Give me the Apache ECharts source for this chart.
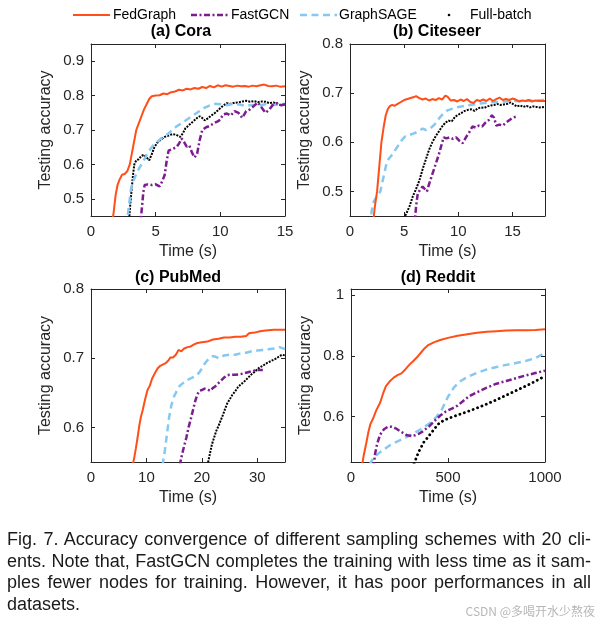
<!DOCTYPE html>
<html>
<head>
<meta charset="utf-8">
<script src="https://cdn.jsdelivr.net/npm/echarts@6/dist/echarts.min.js"></script>
<style>
html,body{margin:0;padding:0;background:#fff;}
#main{position:absolute;left:0;top:0;width:600px;height:624px;}
#cap{position:absolute;left:7px;top:529px;width:584px;font-family:"Liberation Sans",Arial,sans-serif;font-size:18px;line-height:21.5px;color:#1a1a1a;}
#cap div{white-space:nowrap;text-align:justify;text-align-last:justify;}
#cap div.last{text-align-last:left;}
</style>
</head>
<body>
<div id="main"></div>
<div id="cap">
<div>Fig. 7. Accuracy convergence of different sampling schemes with 20 cli-</div>
<div>ents. Note that, FastGCN completes the training with less time as it sam-</div>
<div>ples fewer nodes for training. However, it has poor performances in all</div>
<div class="last">datasets.</div>
</div>
<script>
// ---------- data ----------
const seriesNames = ['FedGraph', 'FastGCN', 'GraphSAGE', 'Full-batch'];
const panelTitles = ['(a) Cora', '(b) Citeseer', '(c) PubMed', '(d) Reddit'];

// x ticks / y ticks per panel
const coraXTicks = [0, 5, 10, 15];
const coraYTicks = [0.5, 0.6, 0.7, 0.8, 0.9];
const citeXTicks = [0, 5, 10, 15];
const citeYTicks = [0.5, 0.6, 0.7, 0.8];
const pubXTicks = [0, 10, 20, 30];
const pubYTicks = [0.6, 0.7, 0.8];
const redXTicks = [0, 500, 1000];
const redYTicks = [0.6, 0.8, 1];

// (a) Cora
const coraFedGraph = [[1.6,0.42],[1.75,0.46],[1.9,0.51],[2.05,0.54],[2.2,0.555],[2.4,0.57],[2.6,0.572],[2.8,0.58],[3.0,0.60],[3.15,0.63],[3.3,0.66],[3.5,0.70],[3.7,0.72],[3.9,0.74],[4.1,0.76],[4.3,0.775],[4.5,0.79],[4.7,0.798],[5.0,0.80],[5.3,0.801],[5.6,0.806],[5.9,0.804],[6.2,0.81],[6.5,0.812],[6.8,0.817],[7.1,0.815],[7.4,0.82],[7.7,0.818],[8.0,0.822],[8.3,0.82],[8.6,0.825],[8.9,0.822],[9.2,0.828],[9.5,0.824],[9.8,0.83],[10.1,0.826],[10.4,0.83],[10.7,0.828],[11.0,0.826],[11.3,0.829],[11.6,0.827],[11.9,0.828],[12.2,0.826],[12.5,0.829],[12.8,0.827],[13.1,0.83],[13.4,0.832],[13.7,0.828],[14.0,0.827],[14.3,0.829],[14.6,0.826],[15,0.827]];
const coraFastGCN = [[3.8,0.42],[3.95,0.48],[4.05,0.52],[4.15,0.54],[4.4,0.542],[4.7,0.54],[5.0,0.542],[5.3,0.536],[5.5,0.55],[5.7,0.57],[5.85,0.61],[6.0,0.64],[6.3,0.645],[6.6,0.65],[6.8,0.66],[7.0,0.675],[7.2,0.665],[7.4,0.652],[7.6,0.655],[7.8,0.635],[8.0,0.62],[8.2,0.63],[8.4,0.67],[8.6,0.70],[8.9,0.708],[9.2,0.712],[9.5,0.72],[9.8,0.725],[10.0,0.73],[10.2,0.745],[10.5,0.748],[10.8,0.742],[11.1,0.755],[11.4,0.75],[11.7,0.735],[12.0,0.755],[12.3,0.76],[12.6,0.77],[12.9,0.78],[13.2,0.765],[13.5,0.75],[13.8,0.76],[14.1,0.775],[14.4,0.778],[14.7,0.772],[15,0.775]];
const coraGraphSAGE = [[2.75,0.42],[2.9,0.47],[3.1,0.53],[3.3,0.555],[3.6,0.58],[3.9,0.60],[4.2,0.62],[4.5,0.64],[4.8,0.655],[5.1,0.665],[5.4,0.675],[5.7,0.682],[6.0,0.69],[6.4,0.705],[6.8,0.715],[7.2,0.725],[7.6,0.735],[8.0,0.745],[8.4,0.755],[8.8,0.765],[9.2,0.772],[9.6,0.776],[10.0,0.775],[10.5,0.772],[11.0,0.776],[11.5,0.774],[12.0,0.77],[12.5,0.773],[13.0,0.771],[13.5,0.775],[14.0,0.772],[14.5,0.774],[15,0.776]];
const coraFullBatch = [[2.95,0.44],[3.05,0.49],[3.15,0.53],[3.25,0.57],[3.35,0.60],[3.5,0.612],[3.7,0.615],[3.9,0.625],[4.1,0.628],[4.3,0.62],[4.5,0.612],[4.7,0.63],[4.9,0.65],[5.1,0.662],[5.4,0.672],[5.7,0.68],[6.0,0.684],[6.3,0.688],[6.6,0.686],[6.9,0.68],[7.1,0.69],[7.3,0.705],[7.6,0.715],[7.9,0.725],[8.2,0.735],[8.4,0.74],[8.6,0.735],[8.8,0.728],[9.0,0.733],[9.3,0.742],[9.6,0.75],[9.9,0.76],[10.2,0.77],[10.5,0.778],[10.8,0.776],[11.1,0.779],[11.4,0.78],[11.7,0.783],[12.0,0.785],[12.3,0.782],[12.6,0.784],[12.9,0.781],[13.2,0.783],[13.5,0.782],[13.8,0.778],[14.1,0.78],[14.4,0.776],[14.7,0.772],[15,0.774]];

// (b) Citeseer
const citeFedGraph = [[2.1,0.43],[2.3,0.47],[2.5,0.50],[2.7,0.55],[2.9,0.60],[3.1,0.63],[3.3,0.655],[3.5,0.668],[3.7,0.674],[3.9,0.676],[4.1,0.674],[4.4,0.678],[4.7,0.682],[5.0,0.686],[5.3,0.688],[5.6,0.69],[5.9,0.692],[6.1,0.694],[6.4,0.69],[6.7,0.687],[7.0,0.689],[7.3,0.685],[7.6,0.688],[7.9,0.686],[8.2,0.69],[8.5,0.687],[8.8,0.695],[9.0,0.693],[9.3,0.685],[9.6,0.686],[9.9,0.683],[10.2,0.687],[10.5,0.684],[10.8,0.688],[11.1,0.682],[11.4,0.68],[11.7,0.686],[12.0,0.684],[12.3,0.687],[12.6,0.684],[12.9,0.689],[13.2,0.684],[13.5,0.688],[13.8,0.691],[14.1,0.686],[14.4,0.688],[14.7,0.686],[15.0,0.689],[15.3,0.687],[15.6,0.683],[15.9,0.685],[16.2,0.684],[16.5,0.686],[16.8,0.683],[17.1,0.685],[17.4,0.684],[17.7,0.684],[18,0.684]];
const citeFastGCN = [[5.95,0.43],[6.1,0.47],[6.25,0.495],[6.5,0.505],[6.7,0.51],[6.9,0.505],[7.1,0.50],[7.3,0.515],[7.6,0.535],[7.9,0.555],[8.2,0.575],[8.45,0.595],[8.65,0.61],[8.9,0.608],[9.2,0.61],[9.5,0.607],[9.8,0.61],[10.1,0.603],[10.4,0.598],[10.7,0.61],[11.0,0.62],[11.3,0.632],[11.6,0.63],[11.9,0.634],[12.2,0.632],[12.5,0.64],[12.8,0.645],[13.1,0.655],[13.3,0.65],[13.5,0.634],[13.8,0.636],[14.1,0.634],[14.4,0.64],[14.7,0.645],[15.0,0.65],[15.3,0.652]];
const citeGraphSAGE = [[1.85,0.43],[2.0,0.46],[2.2,0.48],[2.5,0.49],[2.8,0.50],[3.0,0.52],[3.2,0.54],[3.4,0.56],[3.6,0.567],[3.9,0.575],[4.2,0.585],[4.5,0.595],[4.8,0.605],[5.1,0.612],[5.5,0.615],[5.9,0.618],[6.3,0.622],[6.7,0.628],[7.0,0.625],[7.4,0.628],[7.8,0.636],[8.2,0.648],[8.6,0.658],[9.0,0.665],[9.4,0.668],[9.8,0.671],[10.3,0.673],[10.8,0.675],[11.4,0.677],[12.0,0.679],[12.8,0.681],[13.6,0.682],[14.4,0.683],[15.2,0.684],[16.0,0.684],[17.0,0.685],[18,0.686]];
const citeFullBatch = [[4.95,0.445],[5.2,0.455],[5.5,0.47],[5.8,0.49],[6.1,0.505],[6.4,0.522],[6.7,0.545],[7.0,0.565],[7.3,0.585],[7.6,0.60],[7.9,0.612],[8.2,0.622],[8.5,0.632],[8.8,0.64],[9.1,0.644],[9.4,0.643],[9.7,0.652],[10.0,0.656],[10.3,0.66],[10.6,0.664],[10.9,0.666],[11.2,0.667],[11.5,0.664],[11.8,0.669],[12.1,0.671],[12.4,0.67],[12.7,0.673],[13.0,0.675],[13.3,0.676],[13.6,0.678],[13.9,0.676],[14.2,0.677],[14.5,0.678],[14.8,0.681],[15.1,0.677],[15.4,0.673],[15.7,0.675],[16.0,0.672],[16.3,0.674],[16.6,0.671],[16.9,0.673],[17.2,0.672],[17.5,0.671],[18,0.672]];

// (c) PubMed
const pubFedGraph = [[7.5,0.545],[7.8,0.556],[8.1,0.57],[8.4,0.585],[8.7,0.602],[9.0,0.615],[9.3,0.624],[9.6,0.635],[9.9,0.645],[10.2,0.654],[10.6,0.66],[11.0,0.67],[11.5,0.678],[12.0,0.685],[12.5,0.689],[13.0,0.691],[13.5,0.693],[14.0,0.697],[14.3,0.701],[14.8,0.701],[15.3,0.705],[15.8,0.712],[16.3,0.71],[16.8,0.714],[17.4,0.716],[18.0,0.717],[18.6,0.72],[19.2,0.722],[20.0,0.723],[21.0,0.724],[22.0,0.727],[23.0,0.728],[24.0,0.73],[25.0,0.73],[26.0,0.731],[27.0,0.731],[28.0,0.732],[28.5,0.736],[29.5,0.737],[30.5,0.739],[31.5,0.74],[33.0,0.741],[35,0.741]];
const pubFastGCN = [[16.0,0.545],[16.4,0.56],[16.8,0.573],[17.2,0.585],[17.6,0.6],[18.0,0.612],[18.4,0.625],[18.8,0.638],[19.2,0.648],[19.6,0.653],[20.0,0.654],[20.5,0.656],[21.0,0.655],[21.5,0.653],[22.0,0.657],[22.5,0.66],[23.0,0.664],[23.5,0.668],[24.0,0.672],[24.5,0.675],[25.0,0.676],[26.0,0.676],[27.0,0.677],[28.0,0.679],[29.0,0.681],[30.0,0.683],[31.0,0.683]];
const pubGraphSAGE = [[12.9,0.545],[13.3,0.565],[13.7,0.59],[14.1,0.615],[14.5,0.632],[15.0,0.645],[15.5,0.653],[16.0,0.66],[16.6,0.664],[17.2,0.668],[18.0,0.671],[18.8,0.674],[19.5,0.679],[20.0,0.685],[20.5,0.692],[21.0,0.697],[21.5,0.701],[22.0,0.703],[22.5,0.702],[23.0,0.7],[23.5,0.702],[24.0,0.704],[25.0,0.705],[26.0,0.705],[27.0,0.707],[28.0,0.708],[29.0,0.71],[30.0,0.711],[31.0,0.712],[32.0,0.713],[33.0,0.714],[34.0,0.716],[35,0.713]];
const pubFullBatch = [[21.0,0.545],[21.4,0.56],[21.8,0.575],[22.2,0.585],[22.6,0.595],[23.0,0.602],[23.4,0.61],[23.8,0.618],[24.2,0.627],[24.6,0.635],[25.0,0.64],[25.5,0.647],[26.0,0.652],[26.5,0.658],[27.0,0.662],[27.5,0.665],[28.0,0.669],[28.5,0.673],[29.0,0.677],[29.5,0.68],[30.0,0.684],[30.5,0.687],[31.0,0.689],[31.5,0.692],[32.0,0.694],[32.5,0.696],[33.0,0.698],[33.5,0.7],[34.0,0.703],[34.5,0.705],[35,0.704]];

// (d) Reddit
const redFedGraph = [[55,0.43],[65,0.47],[78,0.51],[90,0.55],[100,0.575],[115,0.595],[130,0.62],[150,0.645],[165,0.675],[180,0.70],[200,0.716],[220,0.728],[240,0.736],[260,0.742],[280,0.755],[300,0.77],[320,0.782],[340,0.795],[360,0.81],[380,0.825],[400,0.836],[430,0.845],[460,0.852],[500,0.859],[550,0.866],[600,0.871],[650,0.876],[700,0.879],[750,0.881],[800,0.883],[850,0.884],[900,0.884],[950,0.885],[1000,0.887]];
const redFastGCN = [[115,0.43],[125,0.48],[135,0.51],[150,0.54],[170,0.558],[190,0.566],[210,0.566],[230,0.561],[250,0.553],[270,0.545],[290,0.538],[310,0.536],[330,0.538],[350,0.543],[370,0.551],[400,0.566],[430,0.585],[460,0.603],[490,0.617],[520,0.626],[550,0.636],[580,0.652],[610,0.667],[650,0.68],[700,0.695],[750,0.708],[800,0.717],[850,0.726],[900,0.735],[950,0.743],[1000,0.751]];
const redGraphSAGE = [[95,0.44],[110,0.458],[130,0.472],[160,0.487],[200,0.505],[240,0.518],[280,0.53],[320,0.543],[360,0.558],[400,0.575],[440,0.598],[470,0.625],[500,0.665],[530,0.695],[560,0.715],[600,0.73],[650,0.744],[700,0.755],[750,0.763],[800,0.77],[850,0.776],[900,0.783],[950,0.792],[1000,0.81]];
const redFullBatch = [[325,0.445],[350,0.485],[375,0.515],[400,0.535],[425,0.555],[450,0.575],[480,0.588],[520,0.598],[560,0.607],[600,0.616],[650,0.628],[700,0.641],[750,0.655],[800,0.67],[850,0.685],[900,0.7],[950,0.716],[1000,0.733]];

// ---------- style ----------
const FONT = '"Liberation Sans", Arial, Helvetica, sans-serif';
const AX = '#262626';
const COLORS = ['#ff4e17', '#7b1d8e', '#85c8f2', '#000000'];

const panels = [
  {grid:{left:91, top:44, width:194, height:172}, x:[0,15], y:[0.45,0.95], xt:coraXTicks, yt:coraYTicks, data:[coraFedGraph, coraFastGCN, coraGraphSAGE, coraFullBatch], title:[181,32]},
  {grid:{left:350, top:44, width:195, height:172}, x:[0,18], y:[0.45,0.8], xt:citeXTicks, yt:citeYTicks, data:[citeFedGraph, citeFastGCN, citeGraphSAGE, citeFullBatch], title:[437,32]},
  {grid:{left:91, top:289, width:194, height:173}, x:[0,35], y:[0.55,0.8], xt:pubXTicks, yt:pubYTicks, data:[pubFedGraph, pubFastGCN, pubGraphSAGE, pubFullBatch], title:[178,278]},
  {grid:{left:351, top:289, width:194, height:173}, x:[0,1000], y:[0.45,1.02], xt:redXTicks, yt:redYTicks, data:[redFedGraph, redFastGCN, redGraphSAGE, redFullBatch], title:[438,278], sparseDots:true}
];

const grids = [], xAxes = [], yAxes = [], series = [], graphics = [];
const lbl = {color:AX, fontSize:15, fontFamily:FONT};
const nameStyle = {color:AX, fontSize:16, fontFamily:FONT};

panels.forEach((p, i) => {
  grids.push(Object.assign({containLabel:false}, p.grid));
  const tickCfg = (vals) => ({show:true, inside:true, length:4, customValues:vals, lineStyle:{color:AX, width:1}});
  const lineCfg = {show:true, onZero:false, lineStyle:{color:AX, width:1}};
  xAxes.push({gridIndex:i, type:'value', min:p.x[0], max:p.x[1], position:'bottom',
    axisLine:lineCfg, axisTick:tickCfg(p.xt),
    axisLabel:Object.assign({customValues:p.xt, margin:8, formatter:v=>String(v)}, lbl),
    splitLine:{show:false}, name:'Time (s)', nameLocation:'middle', nameGap:28, nameTextStyle:nameStyle});
  xAxes.push({gridIndex:i, type:'value', min:p.x[0], max:p.x[1], position:'top',
    axisLine:lineCfg, axisTick:tickCfg(p.xt), axisLabel:{show:false}, splitLine:{show:false}});
  yAxes.push({gridIndex:i, type:'value', min:p.y[0], max:p.y[1], position:'left',
    axisLine:lineCfg, axisTick:tickCfg(p.yt),
    axisLabel:Object.assign({customValues:p.yt, margin:7, formatter:v=>String(v)}, lbl),
    splitLine:{show:false}, name:'Testing accuracy', nameLocation:'middle', nameGap:37, nameTextStyle:nameStyle});
  yAxes.push({gridIndex:i, type:'value', min:p.y[0], max:p.y[1], position:'right',
    axisLine:lineCfg, axisTick:tickCfg(p.yt), axisLabel:{show:false}, splitLine:{show:false}});

  const styles = [
    {color:COLORS[0], width:2, type:'solid'},
    {color:COLORS[1], width:2.5, type:[6,2.5,2,2.5]},
    {color:COLORS[2], width:2.5, type:[7,4.5]},
    p.sparseDots ? {color:COLORS[3], width:2.8, type:[0.1,4.6], cap:'round'} : {color:COLORS[3], width:2, type:[2,1.2]}
  ];
  const order = [3, 2, 1, 0];
  order.forEach(k => {
    series.push({name:seriesNames[k], type:'line', xAxisIndex:2*i, yAxisIndex:2*i,
      data:p.data[k], showSymbol:false, symbol:'none', clip:true, lineStyle:styles[k], z: 2 + (3-k), animation:false});
  });

  graphics.push({type:'text', x:p.title[0], y:p.title[1], style:{text:panelTitles[i], font:'bold 16px '+FONT, fill:'#000', textAlign:'center', textVerticalAlign:'middle'}});
});

// legend (drawn as graphic samples)
const legY = 15;
const legItems = [
  {x:73, tx:113, k:0},
  {x:191, tx:231, k:1},
  {x:300, tx:339, k:2},
  {x:430, tx:470, k:3}
];
const legDash = [null, [6,2.5,2,2.5], [7,4.5], null];
const legW = [2, 2.5, 2.5, 0];
legItems.forEach(it => {
  if (it.k === 3) {
    graphics.push({type:'circle', shape:{cx:449, cy:legY, r:1.3}, style:{fill:'#000'}});
  } else {
    graphics.push({type:'line', shape:{x1:it.x, y1:legY, x2:it.x+37, y2:legY}, style:{stroke:COLORS[it.k], lineWidth:legW[it.k], lineDash:legDash[it.k]}});
  }
  graphics.push({type:'text', x:it.tx, y:legY, style:{text:seriesNames[it.k], font:'14px '+FONT, fill:'#000', textVerticalAlign:'middle'}});
});

// watermark
graphics.push({type:'text', x:595, y:611, style:{text:'CSDN @多喝开水少熬夜', font:'12px "Noto Sans CJK SC", sans-serif', fill:'rgba(175,175,175,0.9)', textAlign:'right', textVerticalAlign:'middle'}});

const chart = echarts.init(document.getElementById('main'), null, {renderer:'canvas'});
chart.setOption({
  animation:false,
  backgroundColor:'#fff',
  grid:grids, xAxis:xAxes, yAxis:yAxes, series:series,
  graphic:{elements:graphics}
});
</script>
</body>
</html>
